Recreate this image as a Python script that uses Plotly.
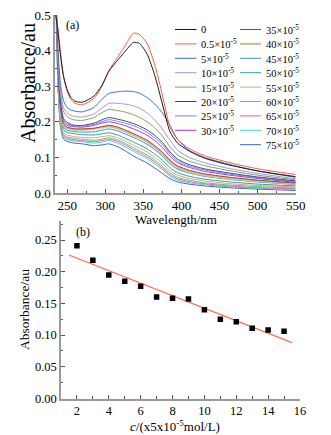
import numpy as np
import plotly.graph_objects as go

# The page body adds an 8px margin; the figure is sized and positioned to compensate.
VIEW_W, VIEW_H = 331, 435
OFF = 8
W, H = VIEW_W - OFF, VIEW_H - OFF

# ---------------- data (a): UV-vis spectra ----------------
wavelength = [235, 238, 241, 245, 250, 255, 260, 270, 285, 295, 305, 315, 325,
              337, 345, 355, 365, 375, 385, 395, 410, 430, 460, 500, 550]

series_names = ["0", "0.5×10<sup>-5</sup>", "5×10<sup>-5</sup>", "10×10<sup>-5</sup>",
                "15×10<sup>-5</sup>", "20×10<sup>-5</sup>", "25×10<sup>-5</sup>", "30×10<sup>-5</sup>",
                "35×10<sup>-5</sup>", "40×10<sup>-5</sup>", "45×10<sup>-5</sup>", "50×10<sup>-5</sup>",
                "55×10<sup>-5</sup>", "60×10<sup>-5</sup>", "65×10<sup>-5</sup>", "70×10<sup>-5</sup>",
                "75×10<sup>-5</sup>"]

a_0 = [0.50, 0.45, 0.39, 0.33, 0.29, 0.268, 0.258, 0.255, 0.272, 0.30, 0.343, 0.37, 0.395,
       0.423, 0.42, 0.39, 0.33, 0.25, 0.172, 0.14, 0.118, 0.098, 0.08, 0.062, 0.046]
a_05 = [0.50, 0.46, 0.40, 0.33, 0.285, 0.262, 0.252, 0.248, 0.265, 0.297, 0.345, 0.378, 0.41,
        0.449, 0.445, 0.42, 0.36, 0.275, 0.185, 0.15, 0.125, 0.105, 0.087, 0.068, 0.052]
a_5 = [0.55, 0.40, 0.31, 0.26, 0.24, 0.233, 0.23, 0.228, 0.24, 0.262, 0.28, 0.284, 0.286,
       0.285, 0.28, 0.268, 0.25, 0.225, 0.19, 0.15, 0.12, 0.10, 0.082, 0.062, 0.044]
a_10 = [0.56, 0.38, 0.29, 0.24, 0.225, 0.218, 0.215, 0.213, 0.222, 0.238, 0.252, 0.252, 0.25,
        0.245, 0.238, 0.225, 0.205, 0.18, 0.148, 0.12, 0.10, 0.085, 0.07, 0.055, 0.04]
a_15 = [0.57, 0.37, 0.28, 0.23, 0.215, 0.208, 0.205, 0.204, 0.212, 0.225, 0.235, 0.232, 0.228,
        0.22, 0.212, 0.20, 0.183, 0.16, 0.13, 0.107, 0.09, 0.077, 0.064, 0.05, 0.037]
a_20 = [0.58, 0.36, 0.26, 0.21, 0.198, 0.193, 0.19, 0.19, 0.196, 0.205, 0.212, 0.208, 0.203,
        0.195, 0.188, 0.177, 0.162, 0.142, 0.115, 0.095, 0.08, 0.068, 0.057, 0.045, 0.034]
a_25 = [0.58, 0.35, 0.255, 0.205, 0.194, 0.19, 0.188, 0.187, 0.193, 0.20, 0.206, 0.202, 0.197,
        0.189, 0.182, 0.17, 0.155, 0.136, 0.11, 0.09, 0.076, 0.065, 0.054, 0.043, 0.032]
a_30 = [0.58, 0.35, 0.25, 0.20, 0.19, 0.187, 0.186, 0.185, 0.19, 0.196, 0.20, 0.196, 0.19,
        0.18, 0.173, 0.162, 0.147, 0.128, 0.103, 0.085, 0.072, 0.061, 0.051, 0.041, 0.03]
a_35 = [0.59, 0.34, 0.24, 0.195, 0.185, 0.182, 0.18, 0.18, 0.182, 0.186, 0.19, 0.186, 0.178,
        0.167, 0.159, 0.148, 0.133, 0.115, 0.092, 0.076, 0.064, 0.054, 0.045, 0.036, 0.028]
a_40 = [0.59, 0.34, 0.235, 0.19, 0.182, 0.18, 0.178, 0.178, 0.18, 0.184, 0.187, 0.182, 0.174,
        0.163, 0.155, 0.144, 0.129, 0.11, 0.088, 0.072, 0.06, 0.05, 0.042, 0.034, 0.026]
a_45 = [0.60, 0.33, 0.23, 0.185, 0.176, 0.174, 0.172, 0.171, 0.172, 0.176, 0.18, 0.175, 0.167,
        0.156, 0.148, 0.137, 0.122, 0.104, 0.082, 0.067, 0.056, 0.047, 0.039, 0.031, 0.024]
a_50 = [0.60, 0.32, 0.22, 0.178, 0.17, 0.168, 0.166, 0.164, 0.163, 0.166, 0.169, 0.164, 0.155,
        0.143, 0.135, 0.124, 0.109, 0.092, 0.071, 0.057, 0.047, 0.039, 0.032, 0.025, 0.02]
a_55 = [0.60, 0.31, 0.21, 0.17, 0.162, 0.16, 0.158, 0.156, 0.155, 0.158, 0.161, 0.156, 0.147,
        0.134, 0.126, 0.115, 0.10, 0.083, 0.063, 0.05, 0.041, 0.034, 0.027, 0.021, 0.017]
a_60 = [0.60, 0.30, 0.20, 0.165, 0.157, 0.155, 0.153, 0.151, 0.148, 0.151, 0.155, 0.15, 0.14,
        0.127, 0.118, 0.107, 0.092, 0.075, 0.056, 0.044, 0.036, 0.029, 0.023, 0.018, 0.014]
a_65 = [0.60, 0.30, 0.20, 0.161, 0.153, 0.151, 0.149, 0.147, 0.144, 0.147, 0.151, 0.146, 0.136,
        0.122, 0.113, 0.102, 0.087, 0.07, 0.051, 0.04, 0.032, 0.026, 0.02, 0.015, 0.012]
a_70 = [0.60, 0.30, 0.195, 0.157, 0.15, 0.148, 0.146, 0.144, 0.14, 0.143, 0.147, 0.141, 0.131,
        0.117, 0.108, 0.097, 0.082, 0.066, 0.047, 0.036, 0.029, 0.023, 0.018, 0.013, 0.01]
a_75 = [0.60, 0.30, 0.19, 0.152, 0.145, 0.142, 0.14, 0.138, 0.133, 0.135, 0.138, 0.131, 0.12,
        0.104, 0.095, 0.084, 0.07, 0.055, 0.04, 0.031, 0.025, 0.02, 0.015, 0.011, 0.007]

spectra = [a_0, a_05, a_5, a_10, a_15, a_20, a_25, a_30, a_35, a_40, a_45, a_50,
           a_55, a_60, a_65, a_70, a_75]

colors = ["#1a1a1a", "#ff5a3c", "#3a70d6", "#b38ce0", "#74a85a", "#3f3f96", "#8585e0",
          "#9a3cc8", "#a8382c", "#c9c39c", "#3c8ed8", "#2e9e9e", "#d6a47a", "#60c860",
          "#e062c4", "#48d0d8", "#3b62c4"]
widths = [1, 1, 1, 1, 1, 1, 1, 1, 1, 2.2, 1, 1, 1, 1, 1, 1, 1]

# ---------------- data (b): absorbance vs concentration ----------------
conc = [2, 3, 4, 5, 6, 7, 8, 9, 10, 11, 12, 13, 14, 15]
absorb = [0.241, 0.218, 0.195, 0.185, 0.177, 0.160, 0.158, 0.157, 0.140, 0.125,
          0.121, 0.111, 0.108, 0.106]
fit_range = [1.5, 15.5]

FONT = "Liberation Serif, Times New Roman, serif"

def px(x):
    return (x - OFF) / W

def py(y):
    return 1 - (y - OFF) / H

fig = go.Figure()

for name, vals, col, lw in reversed(list(zip(series_names, spectra, colors, widths))):
    fig.add_trace(go.Scatter(x=wavelength, y=vals, mode="lines", name=name,
                             line=dict(color=col, width=lw, shape="spline", smoothing=0.6),
                             xaxis="x", yaxis="y", showlegend=False, hoverinfo="skip"))

slope, intercept = np.polyfit(conc, absorb, 1)
fx = np.array(fit_range)
fig.add_trace(go.Scatter(x=fx, y=slope * fx + intercept, mode="lines",
                         line=dict(color="#ff6a4a", width=1.2),
                         xaxis="x2", yaxis="y2", showlegend=False))
fig.add_trace(go.Scatter(x=conc, y=absorb, mode="markers",
                         marker=dict(symbol="square", size=5.5, color="black"),
                         xaxis="x2", yaxis="y2", showlegend=False))

axis_common = dict(showline=True, linecolor="#9a9a9a", linewidth=1.5, showgrid=False,
                   zeroline=False, ticks="inside", ticklen=4, tickwidth=1,
                   tickcolor="#555", automargin=False, ticklabeloverflow="allow",
                   tickfont=dict(family=FONT, size=13, color="black"))

fig.update_layout(
    width=W, height=H, margin=dict(l=0, r=0, t=0, b=0),
    paper_bgcolor="white", plot_bgcolor="white",
    font=dict(family=FONT, color="black"),
    xaxis=dict(domain=[px(55), px(295.7)], range=[234, 550], anchor="y",
               tickvals=[250, 300, 350, 400, 450, 500, 550],
               minor=dict(ticks="inside", ticklen=2.5, dtick=25, tick0=0, tickcolor="#555"),
               **axis_common),
    yaxis=dict(domain=[py(193), py(15)], range=[0, 0.5], anchor="x",
               dtick=0.1, tick0=0, tickformat=".1f",
               minor=dict(ticks="inside", ticklen=2.5, dtick=0.05, tick0=0, tickcolor="#555"),
               **axis_common),
    xaxis2=dict(domain=[px(61), px(300)], range=[1, 16], anchor="y2",
                dtick=2, tick0=0,
                minor=dict(ticks="inside", ticklen=2.5, dtick=1, tick0=0, tickcolor="#555"),
                **axis_common),
    yaxis2=dict(domain=[py(398.5), py(221)], range=[0, 0.28], anchor="x2",
                dtick=0.05, tick0=0, tickformat=".2f",
                minor=dict(ticks="inside", ticklen=2.5, dtick=0.025, tick0=0, tickcolor="#555"),
                **axis_common),
)
fig.update_layout(yaxis2_tickfont_size=12.5, xaxis2_tickfont_size=12.5)

annotations = [
    dict(text="Absorbance/au", x=px(28), y=py(83), textangle=-90, font=dict(size=20)),
    dict(text="Wavelength/nm", x=px(176), y=py(219.5), font=dict(size=13)),
    dict(text="(a)", x=px(72), y=py(25), font=dict(size=12)),
    dict(text="Absorbance/au", x=px(24), y=py(310), textangle=-90, font=dict(size=13.5)),
    dict(text="<i>c</i>/(x5x10<sup>-5</sup>mol/L)", x=px(175), y=py(426), font=dict(size=13)),
    dict(text="(b)", x=px(83), y=py(232), font=dict(size=12)),
]

shapes = []
for i, (name, col, lw) in enumerate(zip(series_names, colors, widths)):
    if i < 8:
        row, x0, x1, xt = i, 175, 196.5, 199
    else:
        row, x0, x1, xt = i - 8, 240, 261, 264
    yy = 29.5 + row * 14.4
    shapes.append(dict(type="line", xref="paper", yref="paper", x0=px(x0), x1=px(x1),
                       y0=py(yy), y1=py(yy), line=dict(color=col, width=lw)))
    annotations.append(dict(text=name, x=px(xt), y=py(yy), xanchor="left",
                            font=dict(size=10.5)))

for a in annotations:
    a.setdefault("xref", "paper")
    a.setdefault("yref", "paper")
    a.setdefault("showarrow", False)
    a.setdefault("xanchor", "center")
    a.setdefault("yanchor", "middle")
    a["font"] = dict(family=FONT, color="black", **a["font"])

fig.update_layout(annotations=annotations, shapes=shapes)

fig.write_html("out.html")
